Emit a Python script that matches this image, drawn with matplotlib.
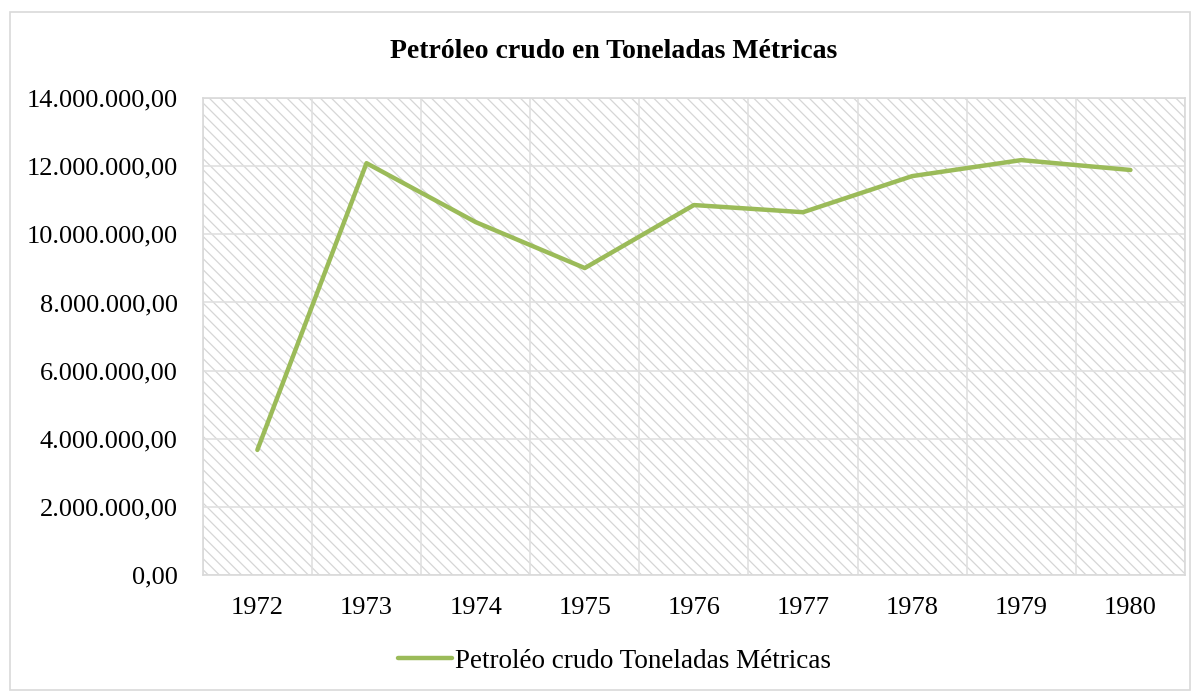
import matplotlib
matplotlib.use('Agg')
import matplotlib.pyplot as plt
from matplotlib.patches import Rectangle
from matplotlib.ticker import FuncFormatter

years = ['1972', '1973', '1974', '1975', '1976', '1977', '1978', '1979', '1980']
toneladas = [3670000, 12090000, 10360000, 9010000, 10860000, 10650000, 11710000, 12180000, 11890000]

plt.rcParams['font.family'] = ['Liberation Serif', 'DejaVu Serif']
plt.rcParams['hatch.linewidth'] = 0.9

fig = plt.figure(figsize=(12, 6.91), dpi=100)
ax = fig.add_axes([0.169, 0.168, 0.8185, 0.690])

# outer chart border
fig.patches.append(Rectangle((10 / 1200, 0.002), 1180 / 1200, 1 - 12 / 691 - 0.002,
                             transform=fig.transFigure, fill=False,
                             edgecolor='#d9d9d9', linewidth=1.2))

# hatched plot area
ax.add_patch(Rectangle((0, 0), 1, 1, transform=ax.transAxes, facecolor='white',
                       edgecolor='#d6d6d6', hatch='\\' * 3, linewidth=0, zorder=0))

x = list(range(len(years)))
ax.plot(x, toneladas, color='#9bbb59', linewidth=3.2, solid_capstyle='round',
        label='Petroléo crudo Toneladas Métricas', zorder=3)

ax.set_xlim(-0.5, len(years) - 0.5)
ax.set_ylim(0, 14000000)
ax.set_xticks(x)
ax.set_xticklabels(years)
ax.set_xticks([i + 0.5 for i in range(-1, len(years))], minor=True)
ax.set_yticks(range(0, 14000001, 2000000))
ax.yaxis.set_major_formatter(FuncFormatter(
    lambda v, p: '{:,.2f}'.format(v).replace(',', 'X').replace('.', ',').replace('X', '.')))

ax.grid(True, axis='y', which='major', color='#e0e0e0', linewidth=1.2, zorder=1)
ax.grid(True, axis='x', which='minor', color='#e0e0e0', linewidth=1.2, zorder=1)
ax.set_axisbelow(True)
ax.tick_params(axis='both', which='both', length=0, labelsize=19, colors='black')
ax.tick_params(axis='y', pad=18)
ax.tick_params(axis='x', pad=16)
for s in ax.spines.values():
    s.set_color('#d9d9d9')
    s.set_linewidth(1.2)

fig.text(0.511, 0.925, 'Petróleo crudo en Toneladas Métricas', ha='center', va='center',
         fontsize=20, fontweight='bold')

fig.legend(loc='center', bbox_to_anchor=(0.512, 0.043), frameon=False, fontsize=19.5,
           handlelength=2.0, handletextpad=0.1)

fig.savefig('out.png', dpi=100)
